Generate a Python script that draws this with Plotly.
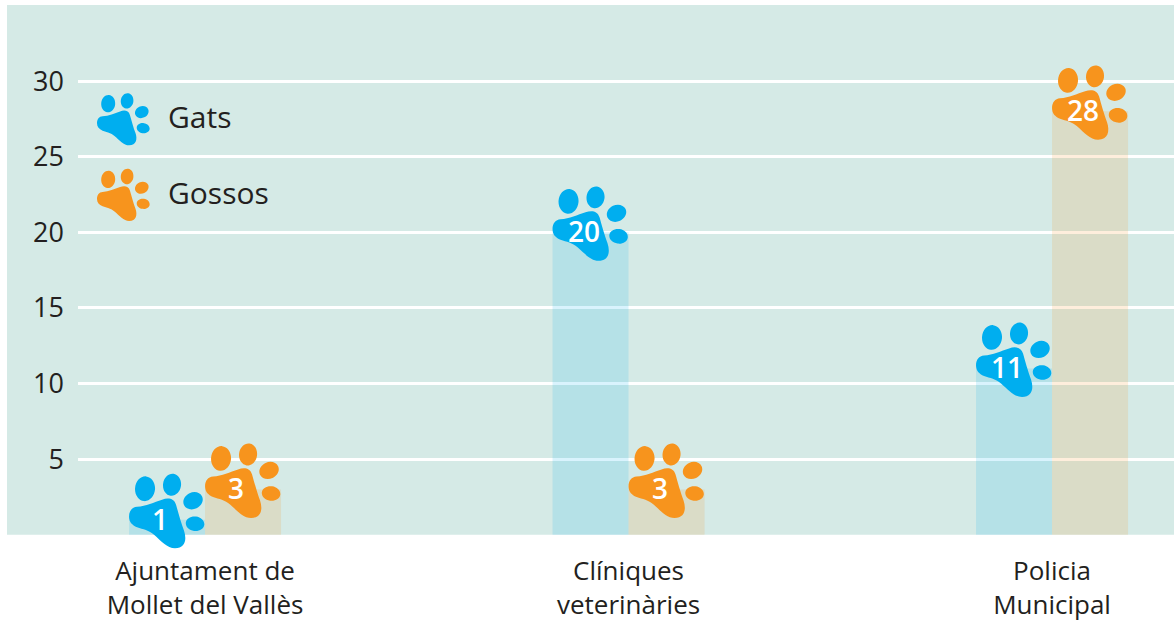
import math
import plotly.graph_objects as go

categories = ["Ajuntament de<br>Mollet del Vallès", "Clíniques<br>veterinàries", "Policia<br>Municipal"]
gats = [1, 20, 11]
gossos = [3, 3, 28]
y_ticks = [5, 10, 15, 20, 25, 30]

TEAL = "#d5eae6"
BLUE = "#00aeef"
ORANGE = "#f7941d"
INK = "#231f20"
FONT = "Open Sans"
BARGAP = 0.641
BAR_W = (1 - BARGAP) / 2
Y_TOP = 35.03
Y_BOTTOM = -1.0
X_RANGE = [-0.3, 2.288]
L, T, B = 78, 5, 71


def ellipse(cx, cy, rx, ry, deg, s):
    k = 0.5523
    a = math.radians(deg)
    def p(u, v):
        return f"{(cx + u * math.cos(a) - v * math.sin(a)) * s:.2f},{(cy + u * math.sin(a) + v * math.cos(a)) * s:.2f}"
    return (f"M{p(rx, 0)} C{p(rx, k * ry)} {p(k * rx, ry)} {p(0, ry)} "
            f"C{p(-k * rx, ry)} {p(-rx, k * ry)} {p(-rx, 0)} "
            f"C{p(-rx, -k * ry)} {p(-k * rx, -ry)} {p(0, -ry)} "
            f"C{p(k * rx, -ry)} {p(rx, -k * ry)} {p(rx, 0)} Z")


PAD = [(-38, 3), [(-38, 9), (-35, 12.6), (-30, 13)], [(-21, 13.6), (-13, 17.5), (-5, 20)],
       [(1, 22.3), (7, 21.5), (9, 15)], [(11, 8), (14, -3), (17, -11)],
       [(20, -20), (18, -28.5), (8, -28.5)], [(0, -28.5), (-6, -21), (-13, -15)],
       [(-18, -10.5), (-24, -9.5), (-30, -7.5)], [(-35, -5.5), (-38, -2), (-38, 3)]]


def paw_path(s=1.0):
    m = PAD[0]
    out = f"M{m[0] * s:.2f},{m[1] * s:.2f} "
    for seg in PAD[1:]:
        out += "C" + " ".join(f"{x * s:.2f},{y * s:.2f}" for x, y in seg) + " "
    out += "Z "
    out += ellipse(-22, 31, 10, 12.4, -5, s) + " "
    out += ellipse(5, 35, 9, 11, -8, s) + " "
    out += ellipse(26, 19, 10, 8.3, 25, s) + " "
    out += ellipse(28, -4, 9.3, 7.3, -8, s)
    return out


shapes = [dict(type="rect", xref="paper", yref="y", x0=-71 / 1096, x1=1, y0=0, y1=Y_TOP,
               fillcolor=TEAL, line_width=0, layer="below")]
annotations = []

for vals, off, color in ((gats, -BAR_W / 2, BLUE), (gossos, BAR_W / 2, ORANGE)):
    for i, v in enumerate(vals):
        shapes.append(dict(type="path", xref="x", yref="y", xsizemode="pixel", ysizemode="pixel",
                           xanchor=i + off, yanchor=v, path=paw_path(), fillcolor=color,
                           line_width=0, layer="above"))
        annotations.append(dict(x=i + off, y=v, xref="x", yref="y", text=str(v), showarrow=False,
                                xshift=-7, yshift=1,
                                font=dict(family=FONT, size=28, color="white", weight=600)))

for name, color, py in (("Gats", BLUE, 125.4), ("Gossos", ORANGE, 201)):
    px = 123.6
    fx = (px - L) / 1096
    fy = 1 - (py - T) / 545
    shapes.append(dict(type="path", xref="paper", yref="paper", xsizemode="pixel", ysizemode="pixel",
                       xanchor=fx, yanchor=fy, path=paw_path(0.7), fillcolor=color,
                       line_width=0, layer="above"))
    annotations.append(dict(x=(168 - L) / 1096, y=fy + 9 / 545, xref="paper", yref="paper", text=name,
                            showarrow=False, xanchor="left", yanchor="middle", xshift=-2,
                            font=dict(family=FONT, size=30, color=INK)))

fig = go.Figure()
fig.add_bar(x=[0, 1, 2], y=gats, name="Gats", marker=dict(color="rgba(0,174,239,0.15)", line_width=0))
fig.add_bar(x=[0, 1, 2], y=gossos, name="Gossos", marker=dict(color="rgba(247,148,29,0.155)", line_width=0))

fig.update_layout(
    width=1174, height=621, autosize=False, showlegend=False,
    margin=dict(l=L, r=0, t=T, b=B, pad=0, autoexpand=False),
    paper_bgcolor="white", plot_bgcolor="rgba(0,0,0,0)",
    barmode="group", bargap=BARGAP, bargroupgap=0,
    shapes=shapes, annotations=annotations,
    font=dict(family=FONT, color=INK),
    xaxis=dict(range=X_RANGE, tickmode="array", tickvals=[0, 1, 2], ticktext=categories,
               showgrid=False, zeroline=False, showline=False, ticks="", automargin=False,
               tickfont=dict(family=FONT, size=26, color=INK), ticklabelstandoff=3),
    yaxis=dict(range=[Y_BOTTOM, Y_TOP], tickmode="array", tickvals=y_ticks,
               ticktext=[str(t) for t in y_ticks], showgrid=True, gridcolor="white", gridwidth=2.5,
               zeroline=False, showline=False, ticks="", automargin=False,
               tickfont=dict(family=FONT, size=27, color=INK), ticklabelstandoff=13),
)

fig.write_html("out.html", config={"displayModeBar": False},
               post_script="document.body.style.margin='0';document.documentElement.style.overflow='hidden';")
